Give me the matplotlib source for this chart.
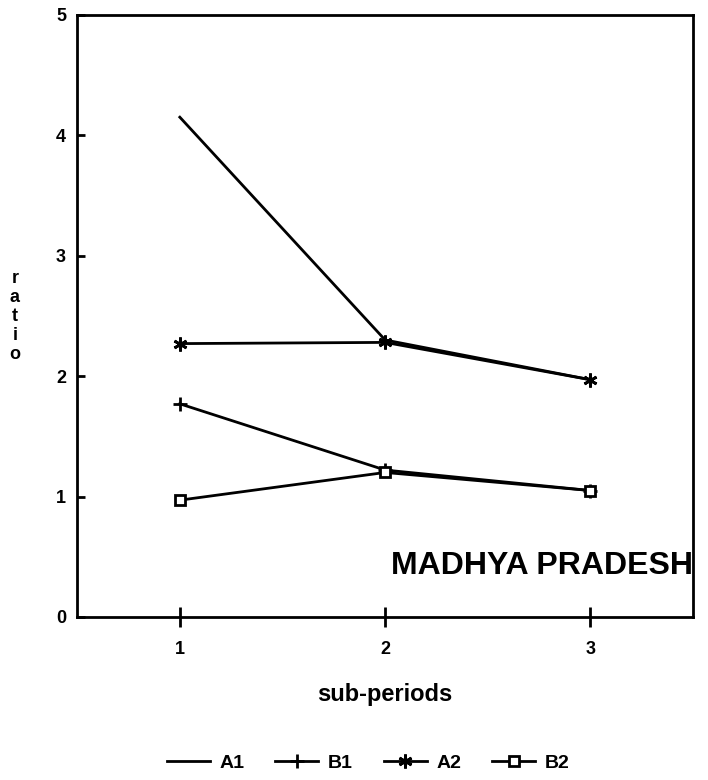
import matplotlib.pyplot as plt

plt.rcParams['font.family'] = ['Liberation Sans', 'DejaVu Sans']
plt.rcParams['font.weight'] = 'bold'
plt.rcParams['axes.labelweight'] = 'bold'

# sub-periods
periodes = [1, 2, 3]
a1 = [4.15, 2.30, 1.97]
b1 = [1.77, 1.22, 1.05]
a2 = [2.27, 2.28, 1.97]
b2 = [0.97, 1.20, 1.05]
noms = ["A1", "B1", "A2", "B2"]

fig = plt.figure(figsize=(7.08, 7.80), dpi=100)
ax = fig.add_axes([0.109, 0.209, 0.870, 0.772])

asterisque = (6, 2, 0)
ax.plot(periodes, a1, color="black", lw=2, label=noms[0])
ax.plot(periodes, b1, color="black", lw=2, marker="+", ms=10, mew=2, label=noms[1])
ax.plot(periodes, a2, color="black", lw=2, marker=asterisque, ms=10, mew=2, label=noms[2])
ax.plot(periodes, b2, color="black", lw=2, marker="s", ms=7, mew=2, mfc="white", label=noms[3])

ax.set_xlim(0.5, 3.5)
ax.set_ylim(0, 5)
ax.set_xticks(periodes)
ax.set_yticks([0, 1, 2, 3, 4, 5])
ax.tick_params(axis="x", direction="inout", length=14, width=2, labelsize=13, pad=10)
ax.tick_params(axis="y", direction="in", length=6, width=2, labelsize=13, pad=8)
for s in ax.spines.values():
    s.set_linewidth(2)

ax.text(3.5, 0.42, "MADHYA PRADESH", ha="right", va="center", fontsize=23)
ax.set_xlabel("sub-periods", fontsize=17, labelpad=18)
fig.text(0.021, 0.594, "r\na\nt\ni\no", ha="center", va="center", fontsize=13, linespacing=1.15)

fig.legend(loc="lower center", bbox_to_anchor=(0.52, -0.012), ncol=4, frameon=False,
           fontsize=14, handlelength=2.2, handletextpad=0.5, columnspacing=1.6)

fig.savefig("out.png", dpi=100)
